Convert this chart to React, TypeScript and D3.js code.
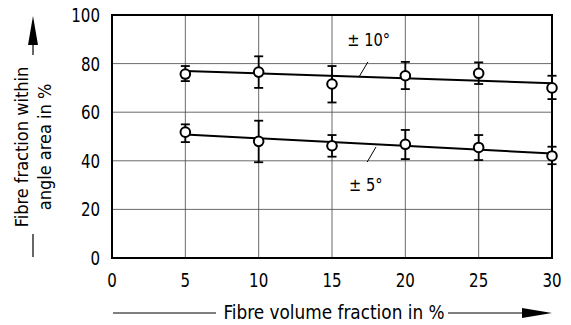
import React from "react";
import * as d3 from "d3";

// fibre volume fraction (%)
const volume = [5, 10, 15, 20, 25, 30];

// ± 10° series: mean, lower, upper
const mean10 = [75.7, 76.5, 71.6, 75, 76, 70];
const low10 = [72.8, 70, 64, 69.5, 71.6, 65.4];
const high10 = [79, 83, 79, 80.7, 80.5, 75];

// ± 5° series
const mean5 = [51.8, 48, 46.2, 46.8, 45.5, 42];
const low5 = [47.7, 39.4, 41.7, 40.7, 40.3, 38.6];
const high5 = [55, 56.5, 50.6, 52.7, 50.6, 45.8];

// fitted trend lines
const fit10: [number, number][] = [[5, 77], [30, 71.9]];
const fit5: [number, number][] = [[5, 50.8], [30, 43]];

const xTicks = [0, 5, 10, 15, 20, 25, 30];
const yTicks = [0, 20, 40, 60, 80, 100];

const W = 571;
const H = 325;
const FONT = "'DejaVu Sans Condensed', 'DejaVu Sans', sans-serif";

const x = d3.scaleLinear().domain([0, 30]).range([112, 552]);
const y = d3.scaleLinear().domain([0, 100]).range([258, 15]);

const line = d3
  .line<[number, number]>()
  .x((d) => x(d[0]))
  .y((d) => y(d[1]));

// narrow lettering like the drawing-standard font
function Label(props: { x: number; y: number; anchor?: string; size?: number; children: React.ReactNode }) {
  const { anchor = "middle", size = 19 } = props;
  return (
    <text
      transform={`translate(${props.x},${props.y}) scale(0.88,1)`}
      fontSize={size}
      textAnchor={anchor}
    >
      {props.children}
    </text>
  );
}

function Series({ mean, low, high }: { mean: number[]; low: number[]; high: number[] }) {
  return (
    <g>
      {volume.map((v, i) => (
        <g key={v}>
          <line x1={x(v)} x2={x(v)} y1={y(high[i])} y2={y(low[i])} stroke="#000" strokeWidth={1.8} />
          <line x1={x(v) - 4.5} x2={x(v) + 4.5} y1={y(high[i])} y2={y(high[i])} stroke="#000" strokeWidth={1.8} />
          <line x1={x(v) - 4.5} x2={x(v) + 4.5} y1={y(low[i])} y2={y(low[i])} stroke="#000" strokeWidth={1.8} />
          <circle cx={x(v)} cy={y(mean[i])} r={4.8} fill="#fff" stroke="#000" strokeWidth={2} />
        </g>
      ))}
    </g>
  );
}

export default function App() {
  return (
    <svg
      width={W}
      height={H}
      style={{ position: "absolute", left: 0, top: 0, background: "#fff" }}
      fontFamily={FONT}
    >
      {/* grid */}
      {xTicks.slice(1, -1).map((t) => (
        <line key={"gx" + t} x1={x(t)} x2={x(t)} y1={y(0)} y2={y(100)} stroke="#444" strokeWidth={0.8} />
      ))}
      {yTicks.slice(1, -1).map((t) => (
        <line key={"gy" + t} x1={x(0)} x2={x(30)} y1={y(t)} y2={y(t)} stroke="#444" strokeWidth={0.8} />
      ))}
      <rect x={x(0)} y={y(100)} width={x(30) - x(0)} height={y(0) - y(100)} fill="none" stroke="#000" strokeWidth={2} />

      {/* fit lines */}
      <path d={line(fit10) ?? ""} fill="none" stroke="#000" strokeWidth={2} />
      <path d={line(fit5) ?? ""} fill="none" stroke="#000" strokeWidth={2} />

      <Series mean={mean10} low={low10} high={high10} />
      <Series mean={mean5} low={low5} high={high5} />

      {/* annotations */}
      <line x1={x(17.45)} y1={y(80.7)} x2={x(16.84)} y2={y(74.5)} stroke="#000" strokeWidth={1} />
      <Label x={x(17.5)} y={y(87.2)} size={18.5}>± 10°</Label>
      <line x1={x(18.0)} y1={y(45.7)} x2={x(17.4)} y2={y(39.5)} stroke="#000" strokeWidth={1} />
      <Label x={x(17.3)} y={y(27.6)} size={18.5}>± 5°</Label>

      {/* tick labels */}
      {xTicks.map((t) => (
        <Label key={"tx" + t} x={x(t)} y={287}>{t}</Label>
      ))}
      {yTicks.map((t) => (
        <Label key={"ty" + t} x={100} y={y(t) + 7} anchor="end">{t}</Label>
      ))}

      {/* x axis title with arrow */}
      <line x1={113} x2={216} y1={313} y2={313} stroke="#000" strokeWidth={1.2} />
      <text x={334} y={319} fontSize={18.8} textAnchor="middle">Fibre volume fraction in %</text>
      <line x1={448} x2={525} y1={313} y2={313} stroke="#000" strokeWidth={1.2} />
      <path d="M522,308 L552,313 L522,318 Z" fill="#000" />

      {/* y axis title with arrow */}
      <g transform="translate(28,147) rotate(-90)">
        <text x={0} y={0} fontSize={18} textAnchor="middle">Fibre fraction within</text>
        <text x={0} y={23} fontSize={18} textAnchor="middle">angle area in %</text>
      </g>
      <line x1={33} x2={33} y1={40} y2={55} stroke="#000" strokeWidth={1.2} />
      <path d="M28,45 L33,16 L38,45 Z" fill="#000" />
      <line x1={33} x2={33} y1={234} y2={257} stroke="#000" strokeWidth={1.2} />
    </svg>
  );
}
